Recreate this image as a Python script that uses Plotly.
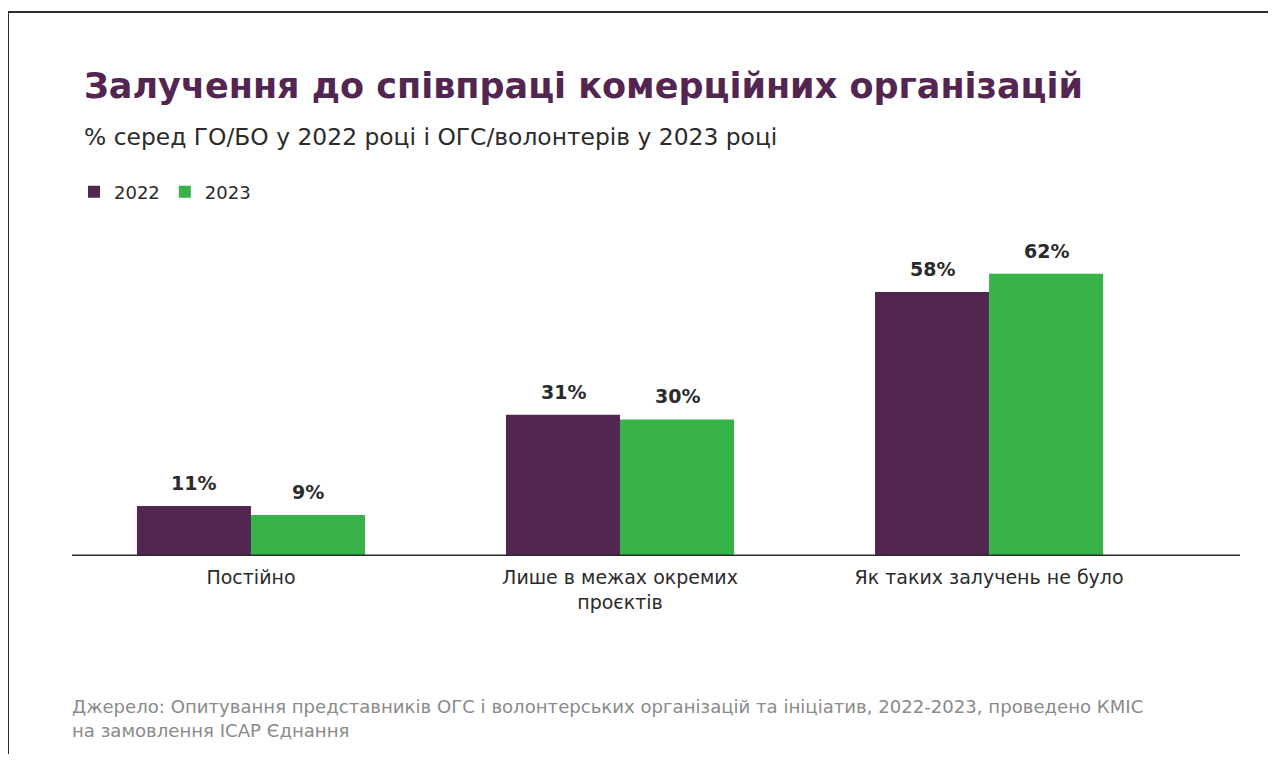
import plotly.graph_objects as go

categories = ["Постійно", "Лише в межах окремих<br>проєктів", "Як таких залучень не було"]
values_2022 = [11, 31, 58]
values_2023 = [9, 30, 62]
series_names = ["2022", "2023"]
colors = ["#532651", "#37b34a"]

title_text = "Залучення до співпраці комерційних організацій"
subtitle_text = "% серед ГО/БО у 2022 році і ОГС/волонтерів у 2023 році"
source_text = ("Джерело: Опитування представників ОГС і волонтерських організацій та ініціатив, 2022-2023, проведено КМІС"
               "<br>на замовлення ІСАР Єднання")

OFF = 8  # page body margin
W, H = 1260, 746
# plot area in screen coords: x 72..1240, y 220..556
L = 72 - OFF
R = W - (1240 - OFF)
T = 220 - OFF
B = H - (556 - OFF)
pw, ph = W - L - R, H - T - B

def px(sx):
    return (sx - OFF - L) / pw

def py(sy):
    return (H - B - (sy - OFF)) / ph

FONT = "DejaVu Sans"

fig = go.Figure()
for name, vals, col in zip(series_names, [values_2022, values_2023], colors):
    fig.add_trace(go.Bar(
        x=list(range(len(categories))), y=vals, name=name,
        marker=dict(color=col, line=dict(width=0)),
        hoverinfo="skip",
    ))

annotations = []
offsets = [-57, 57]
for vals, off in zip([values_2022, values_2023], offsets):
    for i, v in enumerate(vals):
        annotations.append(dict(
            x=i, y=v, xref="x", yref="y", text=f"<b>{v}%</b>", showarrow=False,
            xshift=off, yshift=10, yanchor="bottom",
            font=dict(family=FONT, size=19, color="#2b2b2b"),
        ))

annotations += [
    dict(xref="paper", yref="paper", x=px(82), y=py(86), xanchor="left", yanchor="middle",
         text=f"<b>{title_text}</b>", showarrow=False,
         font=dict(family=FONT, size=35, color="#532651")),
    dict(xref="paper", yref="paper", x=px(82), y=py(137), xanchor="left", yanchor="middle",
         text=subtitle_text, showarrow=False,
         font=dict(family=FONT, size=23.4, color="#2b2b2b")),
    dict(xref="paper", yref="paper", x=px(70), y=py(718), xanchor="left", yanchor="middle",
         text=source_text, showarrow=False, align="left",
         font=dict(family=FONT, size=18.1, color="#8a8a8a")),
]

shapes = [
    dict(type="line", xref="paper", yref="paper", x0=px(8), x1=px(W + 40), y0=py(12), y1=py(12),
         line=dict(color="#2b2b2b", width=2)),
    dict(type="line", xref="paper", yref="paper", x0=px(8), x1=px(8), y0=py(12), y1=py(H + 40),
         line=dict(color="#2b2b2b", width=2)),
    dict(type="line", xref="paper", yref="y", x0=0, x1=1, y0=0, y1=0,
         line=dict(color="#2b2b2b", width=3)),
]

fig.update_layout(
    width=W, height=H,
    margin=dict(l=L, r=R, t=T, b=B),
    paper_bgcolor="white", plot_bgcolor="white",
    barmode="group", bargap=0.382, bargroupgap=0,
    font=dict(family=FONT, color="#2b2b2b"),
    showlegend=True,
    legend=dict(orientation="h", x=px(74), y=py(192), xanchor="left", yanchor="middle",
                font=dict(family=FONT, size=18, color="#2b2b2b"),
                itemwidth=30, traceorder="normal", bgcolor="rgba(0,0,0,0)"),
    xaxis=dict(
        tickmode="array", tickvals=list(range(len(categories))), ticktext=categories,
        range=[-0.485, 2.68], showgrid=False, zeroline=False,
        showline=False, ticks="", ticklabelstandoff=8,
        tickfont=dict(family=FONT, size=19, color="#2b2b2b"),
    ),
    yaxis=dict(range=[0, 73.8], visible=False, showgrid=False, zeroline=False),
    annotations=annotations,
    shapes=shapes,
)

fig.write_html("out.html")
